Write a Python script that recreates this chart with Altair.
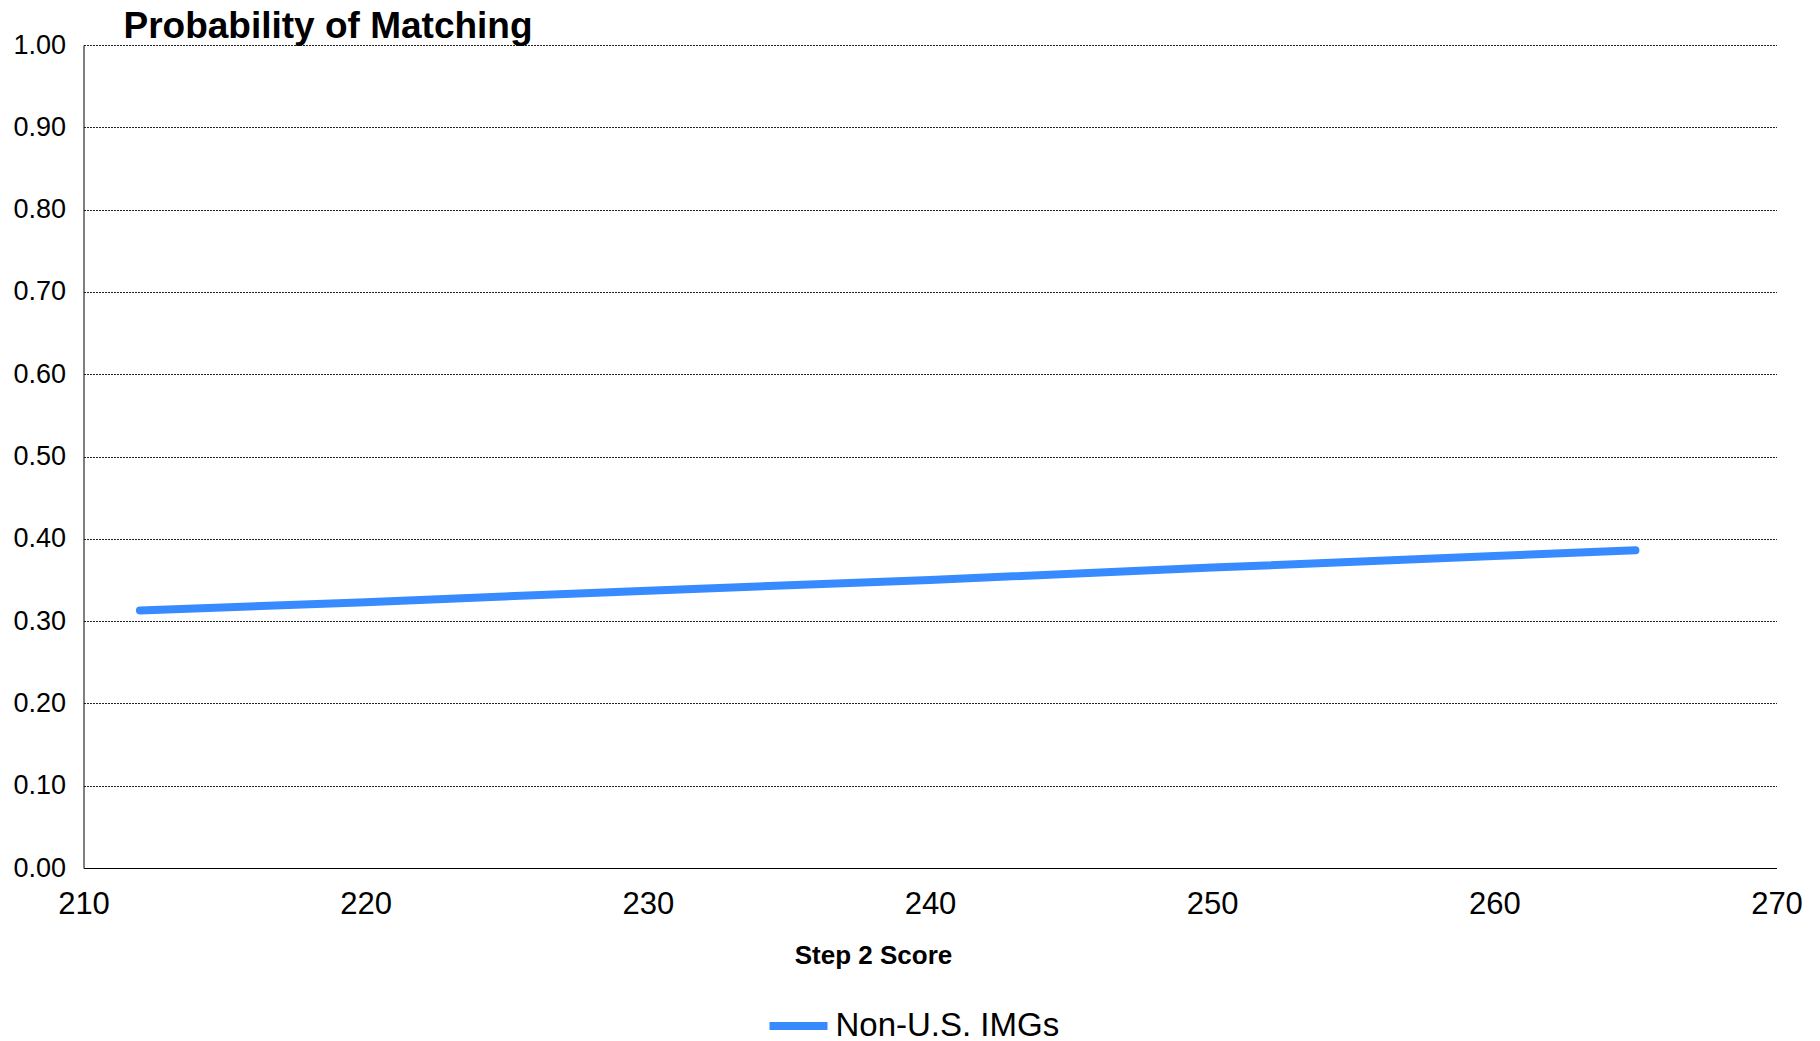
import altair as alt
import pandas as pd

scores = [212, 220, 230, 240, 250, 260, 265]
probs = [0.313, 0.323, 0.337, 0.350, 0.365, 0.379, 0.386]
series = ["Non-U.S. IMGs"] * len(scores)
x_ticks = [210, 220, 230, 240, 250, 260, 270]
y_ticks = [0.0, 0.1, 0.2, 0.3, 0.4, 0.5, 0.6, 0.7, 0.8, 0.9, 1.0]

df = pd.DataFrame({"score": scores, "prob": probs, "group": series})

FONT = "Liberation Sans"

chart = alt.Chart(df).mark_line(strokeWidth=8, strokeCap="round").encode(
    x=alt.X(
        "score:Q",
        scale=alt.Scale(domain=[210, 270], nice=False, zero=False),
        axis=alt.Axis(
            values=x_ticks,
            format="d",
            title="Step 2 Score",
            titleFont=FONT,
            titleFontSize=26,
            titleFontWeight="bold",
            titleColor="black",
            titleX=789.5,
            titleY=95,
            titleAlign="center",
            titleBaseline="alphabetic",
            labelFont=FONT,
            labelFontSize=31,
            labelColor="black",
            labelPadding=21,
            labelFlush=False,
            labelOverlap=False,
            ticks=False,
            grid=False,
            domainColor="black",
            domainWidth=1,
        ),
    ),
    y=alt.Y(
        "prob:Q",
        scale=alt.Scale(domain=[0, 1], nice=False),
        axis=alt.Axis(
            values=y_ticks,
            format=".2f",
            title=None,
            labelFont=FONT,
            labelFontSize=27,
            labelColor="black",
            labelPadding=18,
            labelFlush=False,
            labelOverlap=False,
            ticks=False,
            grid=True,
            gridColor="#222222",
            gridWidth=1,
            gridDash=[2, 1],
            domainColor="black",
            domainWidth=1,
        ),
    ),
    color=alt.Color(
        "group:N",
        scale=alt.Scale(domain=["Non-U.S. IMGs"], range=["#388BFF"]),
        legend=alt.Legend(
            title=None,
            orient="none",
            legendX=682,
            legendY=948,
            direction="horizontal",
            symbolType="stroke",
            symbolSize=3364,
            symbolStrokeWidth=8,
            labelFont=FONT,
            labelFontSize=33,
            labelColor="black",
            labelOffset=4,
            labelLimit=0,
            padding=0,
        ),
    ),
).properties(
    width=1693,
    height=823,
    autosize=alt.AutoSizeParams(type="none"),
    padding={"left": 75.5, "top": 37, "right": 30, "bottom": 172},
    title=alt.TitleParams(
        "Probability of Matching",
        font=FONT,
        fontSize=37,
        fontWeight="bold",
        color="black",
        anchor="start",
        frame="group",
        dx=40,
        offset=-44,
        baseline="alphabetic",
    ),
).configure_view(stroke=None)

chart.save("out.html", embed_options={"renderer": "svg", "actions": False})
